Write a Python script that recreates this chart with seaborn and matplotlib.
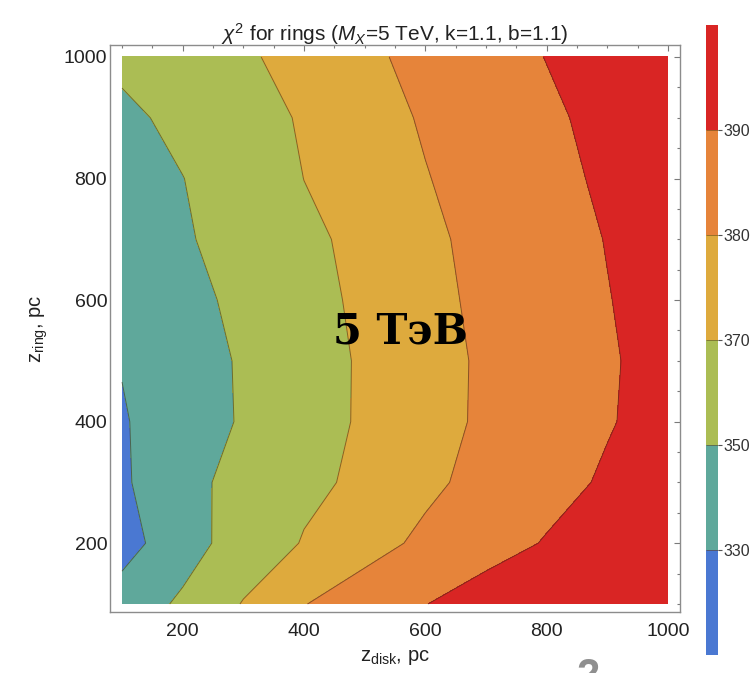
import numpy as np
import matplotlib
matplotlib.use("Agg")
import matplotlib.pyplot as plt
import seaborn as sns
from matplotlib.ticker import MultipleLocator

# ── DATA (grid nodes every 100 pc) ────────────────────────────────────────────
Z_DISK = [100, 200, 300, 400, 500, 600, 700, 800, 900, 1000]
Z_RING = [100, 200, 300, 400, 500, 600, 700, 800, 900, 1000]

# one row per z_ring value (bottom to top), one column per z_disk value
CHI2 = [
    [339.0, 353.0, 371.0, 379.7, 384.8, 389.8, 394.4, 398.9, 403.5, 408.0],
    [322.3, 342.1, 358.6, 371.1, 376.7, 381.8, 386.3, 390.6, 394.6, 398.6],
    [327.3, 344.0, 356.4, 366.3, 373.2, 378.2, 382.7, 387.0, 391.1, 395.1],
    [328.5, 340.2, 351.8, 363.3, 372.0, 376.8, 381.4, 385.4, 389.4, 393.2],
    [330.8, 341.3, 352.0, 363.2, 371.9, 376.7, 381.3, 385.2, 389.1, 393.1],
    [333.2, 343.9, 354.6, 365.3, 372.7, 377.5, 381.9, 385.8, 389.7, 393.4],
    [338.2, 347.9, 357.5, 367.2, 373.4, 378.2, 382.5, 386.4, 390.3, 394.0],
    [339.5, 349.7, 359.9, 370.1, 374.8, 379.6, 383.6, 387.5, 391.4, 395.1],
    [345.8, 354.8, 363.8, 371.5, 376.3, 380.9, 384.8, 388.6, 392.3, 395.8],
    [354.4, 361.4, 368.5, 373.6, 378.3, 382.5, 386.4, 390.2, 393.6, 396.8],
]

LEVELS = [300, 330, 350, 370, 380, 390, 420]
CBAR_TICKS = [330, 350, 370, 380, 390]
COLORS = ["#4a78d2", "#5fa89b", "#abbd54", "#deaa3d", "#e6843a", "#d92524"]

TITLE = r"$\chi^2$ for rings ($M_X$=5 TeV, k=1.1, b=1.1)"
XLABEL = r"z$_{\rm disk}$, pc"
YLABEL = r"z$_{\rm ring}$, pc"
OVERLAY = "5 ТэВ"


def main():
    sns.set_style("white")
    plt.rcParams["font.family"] = ["Liberation Sans", "DejaVu Sans"]
    plt.rcParams["mathtext.fontset"] = "custom"
    plt.rcParams["mathtext.rm"] = "Liberation Sans"
    plt.rcParams["mathtext.it"] = "Liberation Sans:italic"

    palette = sns.color_palette(COLORS)

    fig = plt.figure(figsize=(7.51, 6.73), dpi=100)
    ax = fig.add_axes([110 / 751, 1 - 612 / 673, 570 / 751, 567 / 673])
    cax = fig.add_axes([706 / 751, 1 - 655 / 673, 12 / 751, 630 / 673])

    X, Y = np.meshgrid(Z_DISK, Z_RING)
    Z = np.array(CHI2)

    cs = ax.contourf(X, Y, Z, levels=LEVELS, colors=palette)
    ax.contour(X, Y, Z, levels=CBAR_TICKS, colors="#3a2a10",
               linewidths=0.7, alpha=0.55)

    ax.set_xlim(80.2, 1019.8)
    ax.set_ylim(86.8, 1019.7)

    # Mathematica-like frame: gray box, inward ticks on all sides
    for sp in ax.spines.values():
        sp.set_color("#8c8c8c")
        sp.set_linewidth(1.0)
    ax.xaxis.set_major_locator(MultipleLocator(200))
    ax.yaxis.set_major_locator(MultipleLocator(200))
    ax.xaxis.set_minor_locator(MultipleLocator(50))
    ax.yaxis.set_minor_locator(MultipleLocator(50))
    ax.tick_params(which="both", direction="in", top=True, right=True,
                   color="#7a7a7a", width=0.8)
    ax.tick_params(which="major", length=4.5, labelsize=14,
                   labelcolor="#222222")
    ax.tick_params(which="minor", length=2.5)
    ax.tick_params(axis="x", which="major", pad=8)
    ax.tick_params(axis="y", which="major", pad=2)

    ax.set_title(TITLE, fontsize=15, color="#222222", pad=3)
    ax.set_xlabel(XLABEL, fontsize=14.5, color="#222222", labelpad=6)
    ax.set_ylabel(YLABEL, fontsize=14.5, color="#222222", labelpad=10)

    ax.text(0.5 * (335 - 110) / 570 + 0.5 * (465 - 110) / 570, 1 - (344 - 45) / 567,
            OVERLAY, transform=ax.transAxes, ha="center", va="baseline",
            fontsize=30, fontweight="bold", family="DejaVu Serif",
            color="black")

    cbar = fig.colorbar(cs, cax=cax, ticks=CBAR_TICKS, drawedges=True)
    cbar.outline.set_visible(False)
    cbar.dividers.set_color("#5a3a10")
    cbar.dividers.set_linewidth(0.6)
    cbar.dividers.set_alpha(0.6)
    cax.tick_params(length=3, width=0.8, color="#555555", labelsize=11.5,
                    labelcolor="#333333", pad=1)

    # cut-off slide number at the bottom edge
    fig.text(588 / 751, 1 - 688 / 673, "2", ha="center", va="baseline",
             fontsize=30, fontweight="bold", color="#8f8f8f")

    fig.savefig("out.png", dpi=100)
    plt.close(fig)


if __name__ == "__main__":
    main()
